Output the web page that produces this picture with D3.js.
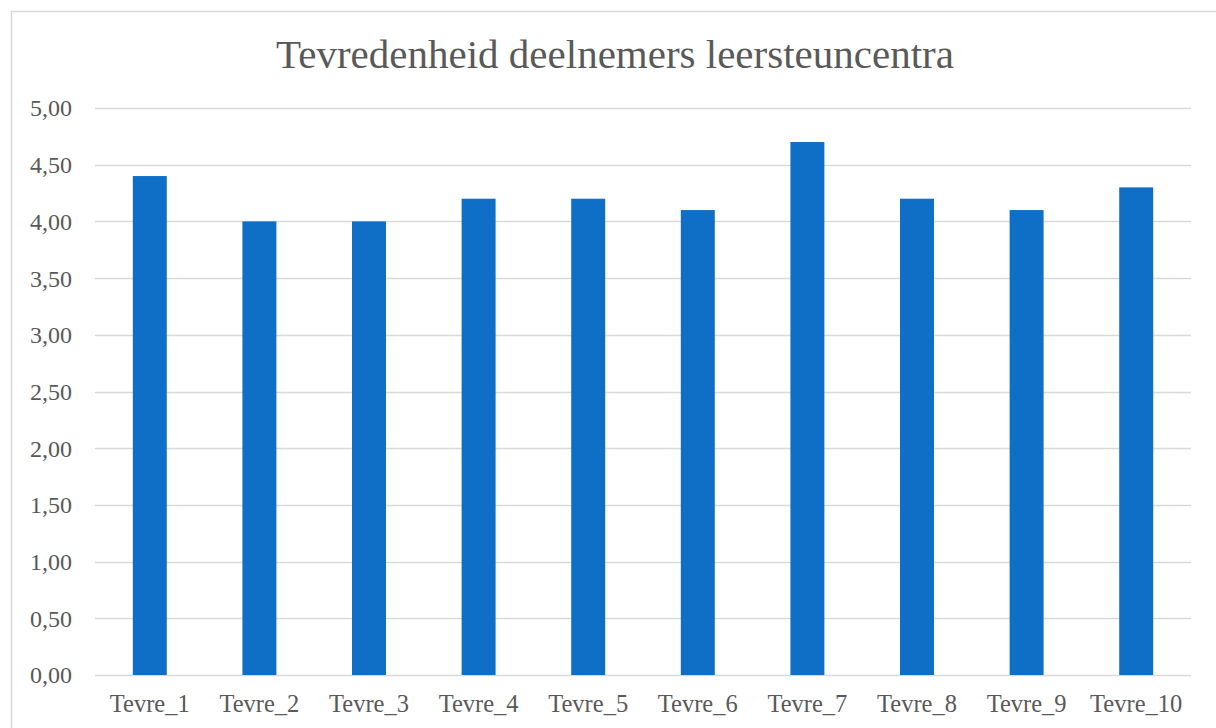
<!DOCTYPE html>
<html>
<head>
<meta charset="utf-8">
<script src="https://cdn.jsdelivr.net/npm/d3@7"></script>
<style>
  html, body { margin: 0; padding: 0; background: #ffffff; }
  svg text { font-family: "Liberation Serif", "DejaVu Serif", serif; fill: #595959; }
</style>
</head>
<body>
<div id="chart"></div>
<script>
/* chart data */
var categories = ['Tevre_1', 'Tevre_2', 'Tevre_3', 'Tevre_4', 'Tevre_5',
                  'Tevre_6', 'Tevre_7', 'Tevre_8', 'Tevre_9', 'Tevre_10'];
var scores = [4.4, 4.0, 4.0, 4.2, 4.2, 4.1, 4.7, 4.2, 4.1, 4.3];
var yTicks = [0, 0.5, 1, 1.5, 2, 2.5, 3, 3.5, 4, 4.5, 5];
var chartTitle = 'Tevredenheid deelnemers leersteuncentra';

var width = 1216, height = 728;
var plot = { left: 95, right: 1191, top: 108, bottom: 675 };

var svg = d3.select('#chart').append('svg')
    .attr('width', width)
    .attr('height', height);

// chart area border (cut off at right and bottom)
svg.append('rect')
    .attr('x', 11.5).attr('y', 11.5)
    .attr('width', width + 20).attr('height', height + 20)
    .attr('fill', 'none')
    .attr('stroke', '#d9d9d9')
    .attr('stroke-width', 1.5);

var x = d3.scaleBand()
    .domain(categories)
    .range([plot.left, plot.right])
    .paddingInner(0.69)
    .paddingOuter(0.345);

var y = d3.scaleLinear()
    .domain([0, 5])
    .range([plot.bottom, plot.top]);

// gridlines
svg.append('g').selectAll('line')
    .data(yTicks)
    .enter().append('line')
    .attr('x1', plot.left).attr('x2', plot.right)
    .attr('y1', function(d) { return Math.round(y(d)) + 0.5; })
    .attr('y2', function(d) { return Math.round(y(d)) + 0.5; })
    .attr('stroke', '#d9d9d9')
    .attr('stroke-width', 1.5);

// y tick labels
var fmt = function(d) { return d3.format('.2f')(d).replace('.', ','); };
svg.append('g').selectAll('text')
    .data(yTicks)
    .enter().append('text')
    .attr('x', 72)
    .attr('y', function(d) { return y(d); })
    .attr('dy', '0.35em')
    .attr('text-anchor', 'end')
    .style('font-size', '24px')
    .text(fmt);

// bars
svg.append('g').selectAll('rect')
    .data(scores)
    .enter().append('rect')
    .attr('x', function(d, i) { return x(categories[i]); })
    .attr('width', x.bandwidth())
    .attr('y', function(d) { return y(d); })
    .attr('height', function(d) { return y(0) - y(d); })
    .attr('fill', '#0f6fc6');

// x labels
svg.append('g').selectAll('text')
    .data(categories)
    .enter().append('text')
    .attr('x', function(d) { return x(d) + x.bandwidth() / 2; })
    .attr('y', 712)
    .attr('text-anchor', 'middle')
    .style('font-size', '24.5px')
    .text(function(d) { return d; });

// title
svg.append('text')
    .attr('x', 615)
    .attr('y', 68)
    .attr('text-anchor', 'middle')
    .style('font-size', '41px')
    .text(chartTitle);
</script>
</body>
</html>
